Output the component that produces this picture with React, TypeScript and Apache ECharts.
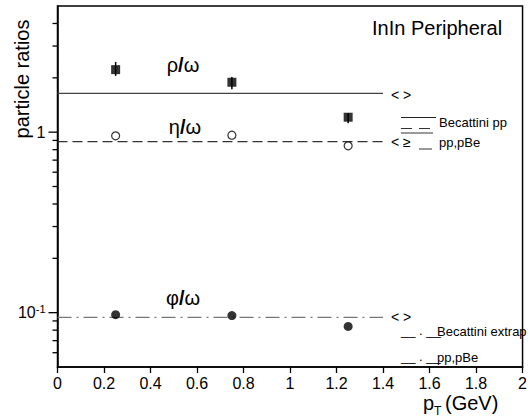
import React, { useEffect, useRef } from "react";
import * as echarts from "echarts";

const FONT = "'Liberation Sans', Arial, sans-serif";

// data
const ptBins = [0.25, 0.75, 1.25];
const rhoOmega = [2.22, 1.89, 1.21];
const rhoLow = [2.05, 1.73, 1.12];
const rhoHigh = [2.45, 2.02, 1.275];
const etaOmega = [0.954, 0.962, 0.84];
const phiOmega = [0.0975, 0.0963, 0.0839];

// Becattini reference levels
const refRange = [0, 1.4];
const rhoRef = 1.64;
const etaRef = 0.887;
const phiRef = 0.0942;

// axis ticks
const xTickInterval = 0.2;
const yMajorTicks = [0.1, 1];
const yMinorTicks = [0.06, 0.07, 0.08, 0.09, 0.2, 0.3, 0.4, 0.5, 0.6, 0.7, 0.8, 0.9, 2, 3, 4];

const Y_MIN = 0.05;
const Y_MAX = 5;

export default function App() {
  const ref = useRef<HTMLDivElement>(null);
  useEffect(() => {
    document.body.style.margin = "0";
    document.body.style.overflow = "hidden";
    const chart = echarts.init(ref.current!, null, { renderer: "svg" });

    const refLine = (v: number, type: any, color: string) => ({
      type: "line",
      data: refRange.map((x) => [x, v]),
      symbol: "none",
      lineStyle: { color, width: 1.3, type },
      z: 2,
      silent: true,
    });

    const txt = (text: string, x: number, y: number, size: number, align = "left", extra: any = {}) => ({
      type: "text",
      x,
      y,
      ...extra,
      style: {
        text,
        fill: "#000",
        font: `${size}px ${FONT}`,
        fontSize: size,
        fontFamily: FONT,
        align,
        textAlign: align,
        verticalAlign: "middle",
        textVerticalAlign: "middle",
      },
    });

    const greek = (g: string, x: number, y: number) => ({
      type: "text",
      x,
      y,
      style: {
        text: `{g|${g}}{s|/}{g|ω}`,
        align: "center",
        verticalAlign: "middle",
        textAlign: "center",
        textVerticalAlign: "middle",
        rich: {
          g: { fontSize: 20, fontFamily: FONT, fill: "#000" },
          s: { fontSize: 20, fontFamily: FONT, fontWeight: "bold", fill: "#000" },
        },
      },
    });

    const seg = (x1: number, x2: number, y: number, dash: any = null, color = "#222") => ({
      type: "line",
      shape: { x1, y1: y, x2, y2: y },
      style: { stroke: color, lineWidth: 1.2, lineDash: dash },
    });

    const staticGraphics = [
      txt("particle ratios", 22, 79, 20, "center", { rotation: Math.PI / 2 }),
      txt("p", 423, 403, 20),
      txt("T", 434, 411, 12),
      txt("(GeV)", 445, 403, 20),
      txt("InIn Peripheral", 372, 28, 20),
      greek("ρ", 183, 65),
      greek("η", 185, 127),
      greek("φ", 183, 298),
      txt("< >", 391, 95, 14),
      txt("< ≥", 391, 142, 14),
      txt("< >", 391, 317, 14),
      seg(401, 436, 117.5),
      txt("Becattini pp", 439, 122, 13),
      seg(401, 436, 128.5, [11, 7], "#333"),
      seg(401, 433, 133, null, "#555"),
      seg(419, 432, 149, null, "#555"),
      txt("pp,pBe", 439, 142, 13),
      txt("__ . __", 401, 330, 13),
      txt("Becattini extrap", 437, 331, 13),
      txt("__ . __", 401, 356, 13),
      txt("pp,pBe", 437, 357, 13),
    ];

    chart.setOption({
      animation: false,
      backgroundColor: "#fff",
      grid: {
        left: 57.5,
        right: -1.5,
        top: 6,
        bottom: 52,
        show: true,
        borderColor: "#000",
        borderWidth: 1.5,
        backgroundColor: "transparent",
      },
      xAxis: {
        type: "value",
        min: 0,
        max: 2,
        interval: xTickInterval,
        axisLine: { show: true, lineStyle: { color: "#000", width: 1.5 } },
        axisTick: { show: true, inside: false, length: 6, lineStyle: { color: "#000", width: 1.3 } },
        axisLabel: { color: "#000", fontSize: 16, fontFamily: FONT, margin: 8 },
        splitLine: { show: false },
      },
      yAxis: {
        type: "log",
        logBase: 10,
        min: Y_MIN,
        max: Y_MAX,
        axisLine: { show: true, lineStyle: { color: "#000", width: 1.5 } },
        axisTick: { show: false },
        minorTick: { show: false },
        splitLine: { show: false },
        axisLabel: {
          margin: 12,
          showMinLabel: false,
          showMaxLabel: false,
          formatter: (v: number) => {
            const e = Math.log10(v);
            if (Math.abs(e) < 0.01) return "{a|1}";
            if (Math.abs(e + 1) < 0.01) return "{a|10}{b|-1}";
            return "";
          },
          rich: {
            a: { fontSize: 16, fontFamily: FONT, color: "#000", lineHeight: 18 },
            b: { fontSize: 11, fontFamily: FONT, color: "#000", verticalAlign: "top", lineHeight: 12 },
          },
        },
      },
      series: [
        refLine(rhoRef, "solid", "#444"),
        refLine(etaRef, [10, 5], "#333"),
        refLine(phiRef, [14, 5, 2, 5], "#777"),
        {
          type: "custom",
          silent: true,
          data: ptBins.map((x, i) => [x, rhoLow[i], rhoHigh[i]]),
          renderItem: (params: any, api: any) => {
            const a = api.coord([api.value(0), api.value(1)]);
            const b = api.coord([api.value(0), api.value(2)]);
            return {
              type: "line",
              shape: { x1: a[0], y1: a[1], x2: b[0], y2: b[1] },
              style: { stroke: "#000", lineWidth: 1.5 },
            };
          },
          z: 3,
        },
        {
          type: "scatter",
          data: ptBins.map((x, i) => [x, rhoOmega[i]]),
          symbol: "rect",
          symbolSize: 9,
          itemStyle: { color: "#000" },
          z: 4,
        },
        {
          type: "scatter",
          data: ptBins.map((x, i) => [x, etaOmega[i]]),
          symbol: "circle",
          symbolSize: 8,
          itemStyle: { color: "#fff", borderColor: "#000", borderWidth: 1.2 },
          z: 4,
        },
        {
          type: "scatter",
          data: ptBins.map((x, i) => [x, phiOmega[i]]),
          symbol: "circle",
          symbolSize: 9,
          itemStyle: { color: "#000" },
          z: 4,
        },
      ],
      graphic: staticGraphics,
    });

    // y-axis tick marks positioned through the library's log scale
    const tickLine = (v: number, len: number) => {
      const p = chart.convertToPixel({ gridIndex: 0 }, [0, v]) as number[];
      return {
        type: "line",
        shape: { x1: p[0] - len, y1: p[1], x2: p[0], y2: p[1] },
        style: { stroke: "#000", lineWidth: 1.3 },
        z: 10,
      };
    };
    const ticks = [
      ...yMajorTicks.map((v) => tickLine(v, 9)),
      ...yMinorTicks.map((v) => tickLine(v, 5)),
    ];
    chart.setOption({ graphic: [...staticGraphics, ...ticks] }, { replaceMerge: ["graphic"] });

    return () => chart.dispose();
  }, []);
  return <div ref={ref} style={{ width: 530, height: 419 }} />;
}
